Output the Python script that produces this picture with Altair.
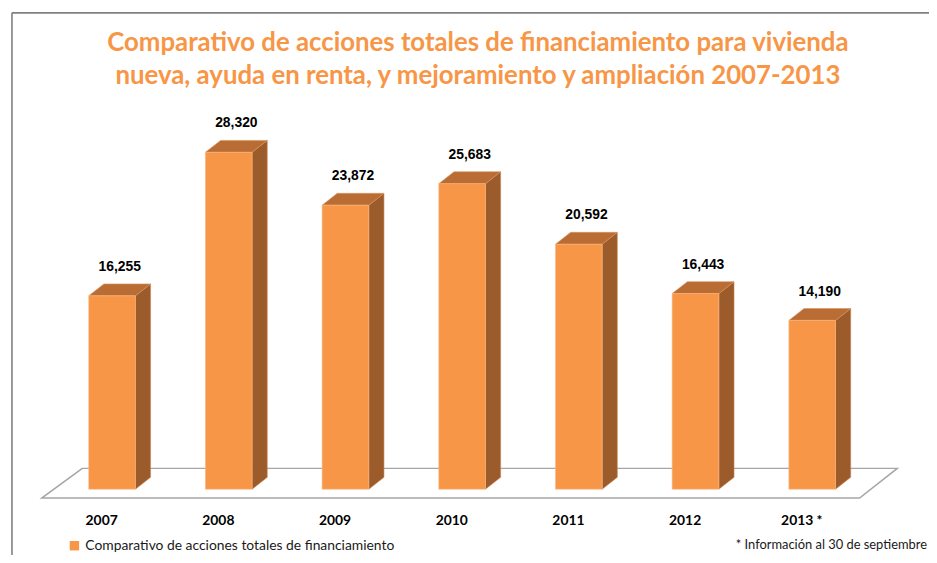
import altair as alt
import pandas as pd

years = ["2007", "2008", "2009", "2010", "2011", "2012", "2013 *"]
values = [16255, 28320, 23872, 25683, 20592, 16443, 14190]
labels = ["16,255", "28,320", "23,872", "25,683", "20,592", "16,443", "14,190"]
title_lines = ["Comparativo de acciones totales de financiamiento para vivienda",
               "nueva, ayuda en renta, y mejoramiento y ampliación 2007-2013"]
legend_name = "Comparativo de acciones totales de financiamiento"
footnote = "* Información al 30 de septiembre"

ORANGE = "#F79646"
SIDE = "#9C5B2B"
TOP = "#B96C33"

HALF = 0.2      # half bar width in category units
DX = 0.13       # 3D depth, x (category units)
DY = 1000       # 3D depth, y (value units)

front = pd.DataFrame({
    "i": list(range(len(years))),
    "year": years,
    "v": values,
    "label": labels,
    "serie": [legend_name] * len(years),
})
front["x1"] = front["i"] - HALF
front["x2"] = front["i"] + HALF
front["zero"] = 0
front["lx"] = front["i"] + DX / 2
front["ly"] = front["v"] + DY

side_rows, top_rows = [], []
for i, (y, v) in enumerate(zip(years, values)):
    side_rows.append({"year": y, "x": i + HALF, "y": 0, "y2": v})
    side_rows.append({"year": y, "x": i + HALF + DX, "y": DY, "y2": v + DY})
    top_rows.append({"year": y, "y": v, "x": i - HALF, "x2": i + HALF})
    top_rows.append({"year": y, "y": v + DY, "x": i - HALF + DX, "x2": i + HALF + DX})
side = pd.DataFrame(side_rows)
top = pd.DataFrame(top_rows)

floor = pd.DataFrame({
    "y": [-750, 1750],
    "x": [-0.603, -0.255],
    "x2": [6.406, 6.729],
})

XD = [-0.603, 6.729]
YD = [-750, 31750]
xs = alt.Scale(domain=XD, nice=False, zero=False)
ys = alt.Scale(domain=YD, nice=False, zero=False)

label_expr = "[" + ",".join("'" + y + "'" for y in years) + "][datum.value]"

floor_layer = alt.Chart(floor).mark_area(
    orient="horizontal", fill="white", stroke="#A6A6A6", strokeWidth=1.5
).encode(
    y=alt.Y("y:Q", scale=ys, axis=None),
    x=alt.X("x:Q", scale=xs, axis=alt.Axis(
        values=list(range(len(years))), labelExpr=label_expr, domain=False,
        ticks=False, grid=False, title=None, labelFont="Lato",
        labelFontWeight="bold", labelFontSize=14, labelColor="#000000",
        labelPadding=16, labelOffset=-11)),
    x2="x2:Q",
)

side_layer = alt.Chart(side).mark_area(
    orient="vertical", color=SIDE, stroke="#C98A55", strokeWidth=0.6
).encode(
    x=alt.X("x:Q", scale=xs),
    y=alt.Y("y:Q", scale=ys),
    y2="y2:Q",
    detail="year:N",
)

top_layer = alt.Chart(top).mark_area(
    orient="horizontal", color=TOP, stroke="#D9945C", strokeWidth=0.6
).encode(
    y=alt.Y("y:Q", scale=ys),
    x=alt.X("x:Q", scale=xs),
    x2="x2:Q",
    detail="year:N",
)

front_layer = alt.Chart(front).mark_rect(stroke="#FBB884", strokeWidth=0.6).encode(
    x=alt.X("x1:Q", scale=xs),
    x2="x2:Q",
    y=alt.Y("zero:Q", scale=ys),
    y2="v:Q",
    color=alt.Color("serie:N", scale=alt.Scale(range=[ORANGE]), legend=alt.Legend(
        orient="none", legendX=26, legendY=431, title=None, symbolType="square",
        symbolSize=90, symbolStrokeWidth=0, labelFont="Lato", labelFontSize=14,
        labelColor="#1a1a1a", labelLimit=500, symbolOffset=0, padding=0)),
)

text_layer = alt.Chart(front).mark_text(
    font="Liberation Sans", fontWeight="bold", fontSize=14, color="#000000",
    baseline="middle", dy=-17
).encode(
    x=alt.X("lx:Q", scale=xs),
    y=alt.Y("ly:Q", scale=ys),
    text="label:N",
)

foot_layer = alt.Chart(pd.DataFrame({"t": [footnote]})).mark_text(
    font="Lato", fontSize=13, color="#1a1a1a", align="right", baseline="middle"
).encode(x=alt.value(893), y=alt.value(437), text="t:N")

title_df = pd.DataFrame({"t": title_lines, "yy": [-69, -36]})
title_layer = alt.Chart(title_df).mark_text(
    font="Lato", fontSize=26, fontWeight="bold", color=ORANGE,
    align="center", baseline="middle"
).encode(x=alt.value(440), y=alt.Y("yy:Q", scale=None), text="t:N")

border_top = alt.Chart(pd.DataFrame({"a": [0]})).mark_rule(
    color="#808080", strokeWidth=1.6
).encode(x=alt.value(-30), x2=alt.value(900), y=alt.value(-99.5))
border_left = alt.Chart(pd.DataFrame({"a": [0]})).mark_rule(
    color="#808080", strokeWidth=1.6
).encode(x=alt.value(-30), y=alt.value(-99.5), y2=alt.value(460))

chart = alt.layer(
    border_top, border_left, title_layer, floor_layer, side_layer, top_layer,
    front_layer, text_layer, foot_layer
).properties(
    width=863, height=390,
    padding={"left": 34, "top": 102, "right": 32, "bottom": 55},
    autosize=alt.AutoSizeParams(type="none"),
).configure_view(stroke=None)

chart.save("out.html", embed_options={"renderer": "svg", "actions": False})
